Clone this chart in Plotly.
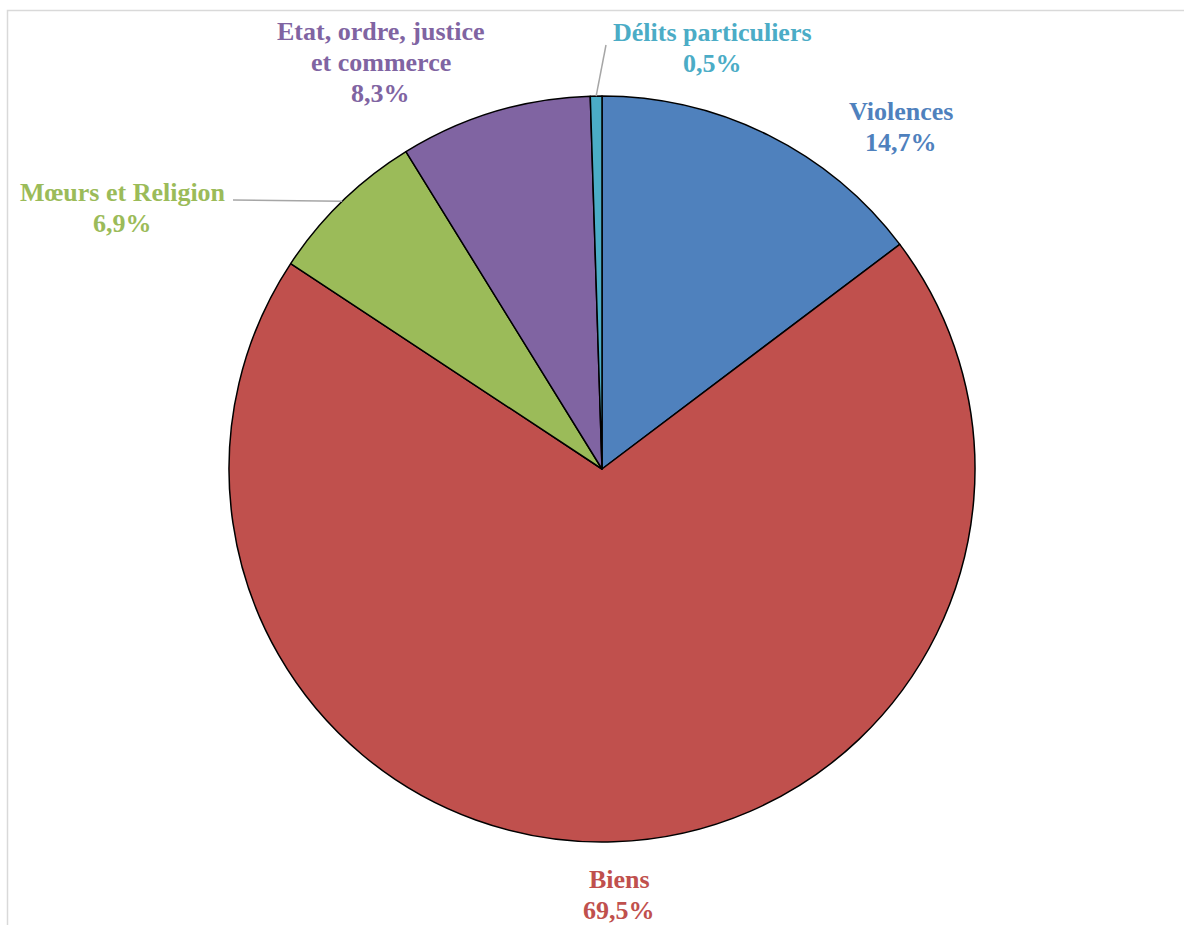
import math
import plotly.graph_objects as go

# ---- data ----
categories = ["Violences", "Biens", "Mœurs et Religion", "Etat, ordre, justice et commerce", "Délits particuliers"]
values = [14.7, 69.5, 6.9, 8.3, 0.5]
label_text = ["Violences<br>14,7%", "Biens<br>69,5%", "Mœurs et Religion<br>6,9%",
              "Etat, ordre, justice<br>et commerce<br>8,3%", "Délits particuliers<br>0,5%"]
colors = ["#4F81BD", "#C0504D", "#9BBB59", "#8064A2", "#4BACC6"]

W, H = 1184, 925
# pie geometry in pixels
cx, cy, R = 602, 469, 373
dom_x = [(cx - R) / W, (cx + R) / W]
dom_y = [(H - (cy + R)) / H, (H - (cy - R)) / H]

fig = go.Figure()
fig.add_trace(go.Pie(
    labels=categories, values=values, sort=False, direction="clockwise", rotation=0,
    marker=dict(colors=colors, line=dict(color="black", width=1.5)),
    textinfo="none", hoverinfo="label+percent", showlegend=False,
    domain=dict(x=dom_x, y=dom_y),
))

# label positions: centre x and y of first line (pixels); line step in pixels
label_pos = [(901, 111), (619, 879), (123, 193), (381, 32), (712, 33)]
line_step = 31
font_family = "Liberation Serif, Times New Roman, serif"
anns = []
for txt, col, (lx, ly) in zip(label_text, colors, label_pos):
    for k, line in enumerate(txt.split("<br>")):
        anns.append(dict(text="<b>" + line + "</b>",
                         x=lx / W, y=1 - (ly + k * line_step) / H, xref="paper", yref="paper",
                         xanchor="center", yanchor="middle", showarrow=False,
                         font=dict(family=font_family, size=26, color=col), align="center"))

# leader lines from slice mid-angle to label
total = sum(values)
cum = 0
mids = []
for v in values:
    mids.append((cum + v / 2) / total * 2 * math.pi)
    cum += v
shapes = []
leader_ends = {2: (233, 200), 4: (606, 45)}
for i, (ex, ey) in leader_ends.items():
    a = mids[i]
    sx = cx + R * math.sin(a)
    sy = cy - R * math.cos(a)
    shapes.append(dict(type="line", xref="paper", yref="paper",
                       x0=sx / W, y0=1 - sy / H, x1=ex / W, y1=1 - ey / H,
                       line=dict(color="#A6A6A6", width=1.5)))
# chart frame
shapes.append(dict(type="rect", xref="paper", yref="paper",
                   x0=7.5 / W, y0=-0.02, x1=1.02, y1=1 - 10.5 / H,
                   line=dict(color="#D9D9D9", width=1.5), fillcolor="rgba(0,0,0,0)", layer="below"))

fig.update_layout(
    width=W, height=H, margin=dict(l=0, r=0, t=0, b=0),
    paper_bgcolor="white", plot_bgcolor="white",
    annotations=anns, shapes=shapes,
)
fig.write_html("out.html", config={"displayModeBar": False},
               post_script="document.body.style.margin='0';")
